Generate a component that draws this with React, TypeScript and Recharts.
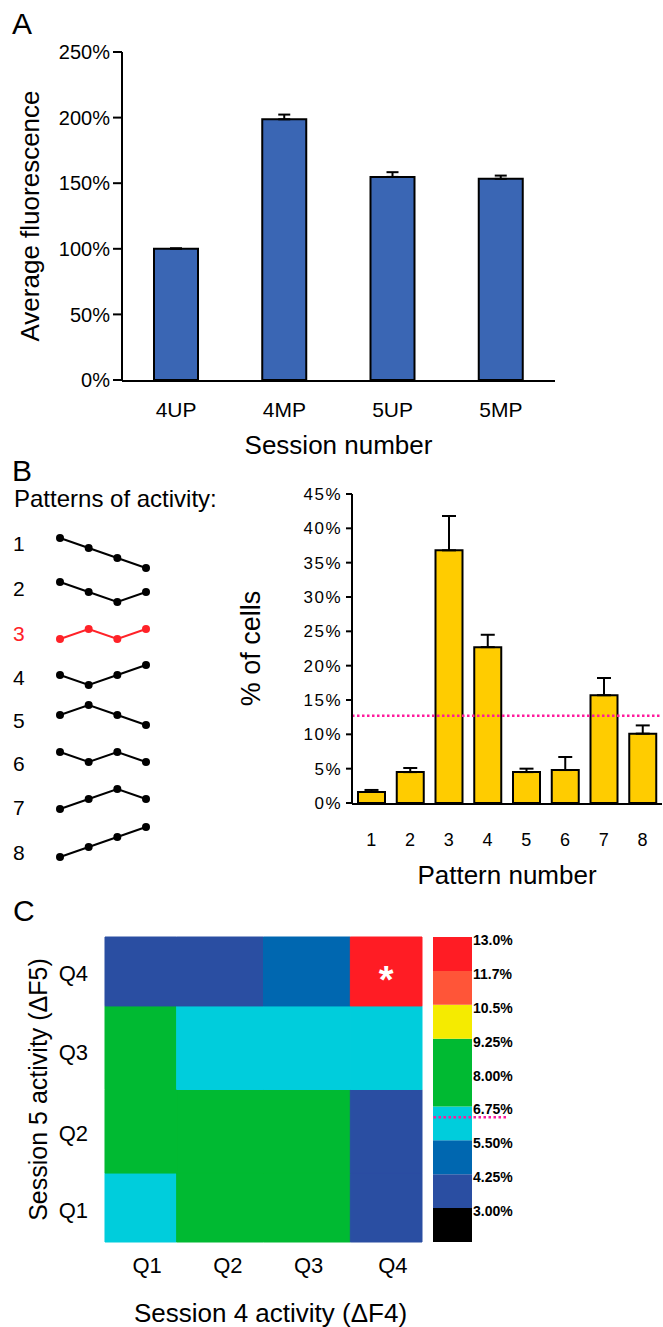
import {
  BarChart,
  Bar,
  XAxis,
  YAxis,
  ErrorBar,
  ReferenceLine,
  ReferenceArea,
  LineChart,
  Line,
  ComposedChart,
  Scatter,
} from 'recharts'

// panel A
const sessions = ['4UP', '4MP', '5UP', '5MP']
const fluorescence = [100, 198.7, 154.8, 153.3]
const fluorescenceErr = [0.4, 3.6, 3.6, 2.5]
const fluorescenceTicks = [0, 50, 100, 150, 200, 250]

// panel B
const patterns = ['1', '2', '3', '4', '5', '6', '7', '8']
const cellShare = [1.6, 4.5, 36.8, 22.7, 4.5, 4.8, 15.7, 10.1]
const cellShareErr = [0.3, 0.6, 5.0, 1.8, 0.5, 1.9, 2.5, 1.2]
const cellTicks = [0, 5, 10, 15, 20, 25, 30, 35, 40, 45]
const patternChance = 12.7
// relative activity level over the four sessions, one list per pattern
const patternShapes = [
  [3, 2, 1, 0],
  [2, 1, 0, 1],
  [0, 1, 0, 1],
  [1, 0, 1, 2],
  [1, 2, 1, 0],
  [1, 0, 1, 0],
  [0, 1, 2, 1],
  [0, 1, 2, 3],
]
const highlighted = '3'

// panel C
const quartiles = ['Q1', 'Q2', 'Q3', 'Q4']
const quartileTicksX = [0.66, 1.59, 2.52, 3.49]
const quartileTicksY = [0.56, 1.48, 2.45, 3.39]
// rows: session 5 quartile (Q1 first), columns: session 4 quartile
const heat = [
  [6.3, 7.0, 7.4, 4.0],
  [7.6, 7.9, 7.3, 3.4],
  [7.3, 6.2, 6.0, 5.9],
  [3.9, 3.7, 4.6, 12.4],
]
const heatStars = [[3, 3]] // [row, col]
const scaleEdges = [1.75, 3.0, 4.25, 5.5, 6.75, 9.25, 10.5, 11.75, 13.0]
const scaleColors = ['#000000', '#2a4ea2', '#0067b0', '#00cddc', '#00ba32', '#f5eb00', '#ff5538', '#ff1c24']
const scaleTicks = [3.0, 4.25, 5.5, 6.75, 8.0, 9.25, 10.5, 11.75, 13.0]
const scaleLabels = ['3.00%', '4.25%', '5.50%', '6.75%', '8.00%', '9.25%', '10.5%', '11.7%', '13.0%']
const scaleChance = 6.35

const heatDomain: [number, number] = [0.175, 3.825]
const axisStroke = { stroke: '#000', strokeWidth: 2 }
const pink = '#ff1a9c'

// layout of the pattern sketches (y of the lowest level, centre of the number)
const patternBase = [568, 602, 639, 685, 725, 762, 809, 857]
const numberCenter = [543, 588, 633, 677, 720, 763, 807, 852]

function colorOf(v: number) {
  let i = 0
  while (i < scaleColors.length - 1 && v >= scaleEdges[i + 1]) i++
  return scaleColors[i]
}

function clamp(v: number) {
  return Math.min(heatDomain[1], Math.max(heatDomain[0], v))
}

function Letter({ text, left, top }: { text: string; left: number; top: number }) {
  return <div style={{ position: 'absolute', left, top, fontSize: 30, lineHeight: 1 }}>{text}</div>
}

function Star(props: any) {
  const { cx, cy } = props
  return (
    <text x={cx} y={cy + 22} textAnchor="middle" fill="#fff" fontSize={38} fontWeight={700}>
      *
    </text>
  )
}

export default function App() {
  const dataA = sessions.map((s, i) => ({ session: s, value: fluorescence[i], err: [0, fluorescenceErr[i]] }))
  const dataB = patterns.map((p, i) => ({ pattern: p, value: cellShare[i], err: [0, cellShareErr[i]] }))
  const stars = heatStars.map(([r, c]) => ({
    x: (clamp(c) + clamp(c + 1)) / 2,
    y: (clamp(r) + clamp(r + 1)) / 2,
  }))
  const scaleRow: Record<string, number | string> = { name: 'scale' }
  scaleColors.forEach((_, i) => {
    scaleRow[`b${i}`] = scaleEdges[i + 1] - (i === 0 ? 0 : scaleEdges[i])
  })

  return (
    <div
      style={{
        position: 'absolute',
        left: 0,
        top: 0,
        width: 663,
        height: 1327,
        overflow: 'hidden',
        background: '#fff',
        color: '#000',
        fontFamily: "'Liberation Sans', Arial, sans-serif",
      }}
    >
      <Letter text="A" left={12} top={9} />
      <div style={{ position: 'absolute', left: 0, top: 0 }}>
        <BarChart width={600} height={470} data={dataA} margin={{ top: 52, right: 45, bottom: 88, left: 0 }}>
          <XAxis
            dataKey="session"
            height={1}
            interval={0}
            axisLine={false}
            tickLine={false}
            tickSize={0}
            tickMargin={22}
            tick={{ fontSize: 21, fill: '#000' }}
            label={{ value: 'Session number', position: 'bottom', offset: 55, fontSize: 26, fill: '#000' }}
          />
          <XAxis
            xAxisId="edge"
            type="number"
            domain={[0, 4]}
            ticks={[0, 1, 2, 3, 4]}
            interval={0}
            tick={false}
            height={1}
            axisLine={axisStroke}
            tickLine={axisStroke}
            tickSize={8}
          />
          <YAxis
            width={122}
            domain={[0, 250]}
            ticks={fluorescenceTicks}
            interval={0}
            tickFormatter={(v) => `${v}%`}
            tick={{ fontSize: 20, fill: '#000' }}
            axisLine={axisStroke}
            tickLine={axisStroke}
            tickSize={9}
            tickMargin={3}
            label={{
              value: 'Average fluorescence',
              angle: -90,
              position: 'insideLeft',
              offset: 30,
              fontSize: 26,
              fill: '#000',
              style: { textAnchor: 'middle' },
            }}
          />
          <Bar dataKey="value" fill="#3a66b4" stroke="#000" strokeWidth={2} barSize={44} isAnimationActive={false}>
            <ErrorBar dataKey="err" direction="y" width={6} stroke="#000" strokeWidth={2} />
          </Bar>
        </BarChart>
      </div>

      <Letter text="B" left={12} top={456} />
      <div style={{ position: 'absolute', left: 14, top: 487, fontSize: 24, lineHeight: 1 }}>Patterns of activity:</div>
      {patternShapes.map((shape, i) => {
        const color = patterns[i] === highlighted ? '#ff2228' : '#000'
        return (
          <div key={patterns[i]}>
            <div
              style={{
                position: 'absolute',
                left: 13,
                top: numberCenter[i] - 10,
                fontSize: 21,
                lineHeight: 1,
                color,
              }}
            >
              {patterns[i]}
            </div>
            <div style={{ position: 'absolute', left: 55, top: patternBase[i] - 36 }}>
              <LineChart
                width={96}
                height={42}
                data={shape.map((v, j) => ({ step: j, level: v }))}
                margin={{ top: 6, right: 5, bottom: 6, left: 5 }}
              >
                <XAxis dataKey="step" hide />
                <YAxis domain={[0, 3]} hide />
                <Line
                  dataKey="level"
                  stroke={color}
                  strokeWidth={2}
                  dot={{ r: 4, fill: color, stroke: color, strokeWidth: 0 }}
                  isAnimationActive={false}
                />
              </LineChart>
            </div>
          </div>
        )
      })}

      <div style={{ position: 'absolute', left: 230, top: 470 }}>
        <BarChart width={433} height={430} data={dataB} margin={{ top: 24, right: 1, bottom: 95, left: 0 }}>
          <XAxis
            dataKey="pattern"
            height={1}
            interval={0}
            axisLine={false}
            tickLine={false}
            tickSize={0}
            tickMargin={30}
            tick={{ fontSize: 18, fill: '#000' }}
            label={{ value: 'Pattern number', position: 'bottom', offset: 62, fontSize: 26, fill: '#000' }}
          />
          <XAxis
            xAxisId="edge"
            type="number"
            domain={[0, 8]}
            ticks={[0, 1, 2, 3, 4, 5, 6, 7, 8]}
            interval={0}
            tick={false}
            height={1}
            axisLine={axisStroke}
            tickLine={axisStroke}
            tickSize={7}
          />
          <YAxis
            width={122}
            domain={[0, 45]}
            ticks={cellTicks}
            interval={0}
            tickFormatter={(v) => `${v}%`}
            tick={{ fontSize: 17, fill: '#000', letterSpacing: 1.5 }}
            axisLine={axisStroke}
            tickLine={axisStroke}
            tickSize={6}
            tickMargin={4}
            label={{
              value: '% of cells',
              angle: -90,
              position: 'insideLeft',
              offset: 20,
              fontSize: 27,
              fill: '#000',
              style: { textAnchor: 'middle' },
            }}
          />
          <Bar dataKey="value" fill="#ffcc00" stroke="#000" strokeWidth={2} barSize={27} isAnimationActive={false}>
            <ErrorBar dataKey="err" direction="y" width={7} stroke="#000" strokeWidth={2} />
          </Bar>
          <ReferenceLine y={patternChance} stroke={pink} strokeWidth={2.5} strokeDasharray="2.5 2.5" />
        </BarChart>
      </div>

      <Letter text="C" left={13} top={896} />
      <div style={{ position: 'absolute', left: 0, top: 880 }}>
        <ComposedChart width={440} height={447} data={stars} margin={{ top: 57, right: 18, bottom: 0, left: 0 }}>
          <XAxis
            dataKey="x"
            type="number"
            domain={heatDomain}
            allowDataOverflow
            ticks={quartileTicksX}
            interval={0}
            tickFormatter={(_, i) => quartiles[i]}
            height={85}
            axisLine={false}
            tickLine={false}
            tickSize={0}
            tickMargin={15}
            tick={{ fontSize: 22, fill: '#000' }}
            label={{ value: 'Session 4 activity (ΔF4)', position: 'insideBottom', offset: 5, dx: 7, fontSize: 26, fill: '#000' }}
          />
          <YAxis
            dataKey="y"
            type="number"
            domain={heatDomain}
            allowDataOverflow
            ticks={quartileTicksY}
            interval={0}
            tickFormatter={(_, i) => quartiles[i]}
            width={105}
            axisLine={false}
            tickLine={false}
            tickSize={0}
            tickMargin={17}
            tick={{ fontSize: 22, fill: '#000' }}
            label={{
              value: 'Session 5 activity (ΔF5)',
              angle: -90,
              position: 'insideLeft',
              offset: 38,
              fontSize: 25,
              fill: '#000',
              style: { textAnchor: 'middle' },
            }}
          />
          {heat.flatMap((row, r) =>
            row.map((v, c) => (
              <ReferenceArea
                key={`${r}-${c}`}
                x1={clamp(c)}
                x2={clamp(c + 1)}
                y1={clamp(r)}
                y2={clamp(r + 1)}
                fill={colorOf(v)}
                fillOpacity={1}
                stroke={colorOf(v)}
                strokeWidth={1}
              />
            )),
          )}
          <Scatter dataKey="y" shape={Star} isAnimationActive={false} />
        </ComposedChart>
      </div>

      <div style={{ position: 'absolute', left: 420, top: 880 }}>
        <BarChart
          width={243}
          height={447}
          data={[scaleRow]}
          margin={{ top: 57, right: 0, bottom: 85, left: 13 }}
          barCategoryGap={0}
          barGap={0}
        >
          {/* plot runs past the bar so the chance line reaches under the labels */}
          <XAxis dataKey="name" hide padding={{ left: 0, right: 34 }} />
          <YAxis
            orientation="right"
            type="number"
            domain={[scaleEdges[0], scaleEdges[scaleEdges.length - 1]]}
            allowDataOverflow
            ticks={scaleTicks}
            interval={0}
            tickFormatter={(_, i) => scaleLabels[i]}
            width={157}
            axisLine={false}
            tickLine={false}
            tickSize={0}
            tickMargin={0}
            tick={{ fontSize: 14, fontWeight: 700, fill: '#000', dx: -33, dy: 3 }}
          />
          {scaleColors.map((f, i) => (
            <Bar key={f} dataKey={`b${i}`} stackId="scale" fill={f} isAnimationActive={false} />
          ))}
          <ReferenceLine y={scaleChance} stroke={pink} strokeWidth={2.5} strokeDasharray="2.5 2.5" />
        </BarChart>
      </div>
    </div>
  )
}
